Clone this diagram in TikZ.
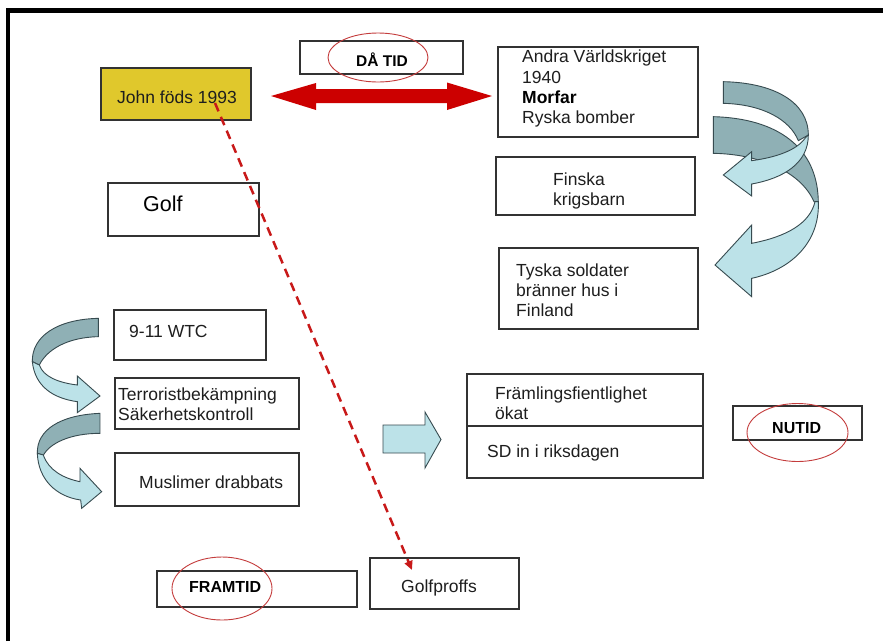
\documentclass[tikz,border=0pt]{standalone}
\usepackage{fontspec}
\setmainfont{Liberation Sans}
\usetikzlibrary{arrows.meta}
\definecolor{boxline}{RGB}{50,50,50}
\definecolor{txtcol}{RGB}{30,30,30}
\definecolor{goldfill}{RGB}{224,200,44}
\definecolor{darkteal}{RGB}{143,176,181}
\definecolor{lightteal}{RGB}{188,226,232}
\definecolor{tealline}{RGB}{55,75,80}
\definecolor{redarrow}{RGB}{204,0,0}
\definecolor{reddash}{RGB}{200,25,25}
\definecolor{ellred}{RGB}{196,60,60}
\begin{document}
\begin{tikzpicture}[x=1pt,y=-1pt,
  box/.style={draw=boxline, line width=1.2pt, rectangle, inner sep=0, outer sep=0},
  lbl/.style={anchor=base west, inner sep=0, text=txtcol, font=\fontsize{17.5}{20}\selectfont},
  bold/.style={anchor=base west, inner sep=0, text=black, font=\fontsize{16}{19}\selectfont\bfseries},
  ring/.style={draw=ellred, line width=0.9pt},
  darkband/.style={fill=darkteal, draw=tealline, line width=0.9pt},
  lightband/.style={fill=lightteal, draw=tealline, line width=0.9pt}
]
\useasboundingbox (0,0) rectangle (883,641);
\fill[white] (0,0) rectangle (883,641);
% frame
\draw[line width=4.3pt] (8,641) -- (8,10.5) -- (883,10.5);

% boxes
\node[box, fill=goldfill, minimum width=150, minimum height=52] (john) at (176,94) {};
\node[box, minimum width=163, minimum height=33] (datid) at (381.5,57.5) {};
\node[box, minimum width=200, minimum height=90] (andra) at (598,92) {};
\node[box, minimum width=199, minimum height=58] (finska) at (595.5,186) {};
\node[box, minimum width=199, minimum height=81] (tyska) at (598.5,288.5) {};
\node[box, minimum width=151, minimum height=53] (golf) at (183.5,209.5) {};
\node[box, minimum width=152, minimum height=50] (wtc) at (190,335) {};
\node[box, minimum width=184, minimum height=51] (terror) at (207,403.5) {};
\node[box, minimum width=184, minimum height=53] (muslim) at (207,479.5) {};
\node[box, minimum width=236, minimum height=104] (fram) at (585,426) {};
\draw[boxline, line width=1.6pt] (fram.west) -- (fram.east);
\node[box, minimum width=129, minimum height=34] (nutid) at (797.5,423) {};
\node[box, minimum width=200, minimum height=36] (framtid) at (257,589) {};
\node[box, minimum width=149, minimum height=51] (golfproffs) at (444.5,583.5) {};

% texts
\node[lbl] (tjohn) at (117,103) {John föds 1993};
\node[bold, font=\fontsize{15.5}{18}\selectfont\bfseries] (tdatid) at (356,66.5) {DÅ TID};
\node[lbl] (ta1) at (522,62.5) {Andra Världskriget};
\node[lbl] (ta2) at (522,83) {1940};
\node[lbl, font=\fontsize{17.5}{20}\selectfont\bfseries, text=black] (ta3) at (522,103) {Morfar};
\node[lbl] (ta4) at (522,123) {Ryska bomber};
\node[lbl] (tf1) at (553,185) {Finska};
\node[lbl] (tf2) at (553,205) {krigsbarn};
\node[lbl] (ty1) at (516,276.5) {Tyska soldater};
\node[lbl] (ty2) at (516,296.5) {bränner hus i};
\node[lbl] (ty3) at (516,316.5) {Finland};
\node[lbl, font=\fontsize{21.5}{24}\selectfont, text=black] (tgolf) at (143,211) {Golf};
\node[lbl] (twtc) at (129,337.5) {9-11 WTC};
\node[lbl] (tt1) at (118,400) {Terroristbekämpning};
\node[lbl] (tt2) at (118,420) {Säkerhetskontroll};
\node[lbl] (tmus) at (139,488.5) {Muslimer drabbats};
\node[lbl] (tfr1) at (495,399) {Främlingsfientlighet};
\node[lbl] (tfr2) at (495,419) {ökat};
\node[lbl] (tsd) at (487,457) {SD in i riksdagen};
\node[bold] (tnutid) at (772,433) {NUTID};
\node[bold] (tframtid) at (189,592.5) {FRAMTID};
\node[lbl] (tgp) at (401,592) {Golfproffs};

% red ellipses
\draw[ring] (378,57.5) ellipse [x radius=50, y radius=24.5];
\draw[ring] (797.5,432.5) ellipse [x radius=50.5, y radius=29];
\draw[ring] (222,588.5) ellipse [x radius=50, y radius=31.5];

% red double arrow
\fill[redarrow] (271,96) -- (316,83) -- (316,89) -- (447,89) -- (447,82.5) -- (492,96)
  -- (447,110) -- (447,103) -- (316,103) -- (316,110) -- cycle;

% dashed connector
\coordinate (ds) at (215,103);
\coordinate (de) at (412,570);
\draw[reddash, line width=2.5pt, dash pattern=on 9pt off 6pt, -{Triangle[length=9pt,width=8pt]}] (ds) -- (de);

% block arrow
\draw[lightband] (383,425) -- (425,425) -- (425,412) -- (441,439.5) -- (425,468) -- (425,453) -- (383,453) -- cycle;

% right curved arrows
\begin{scope}[shift={(690,70)}, scale=1/3]
  \draw[darkband] (70,140) .. controls (260,145) and (385,230) .. (385,400)
     -- (372,395) .. controls (330,300) and (200,252) .. (70,250) -- cycle;
  \draw[darkband] (100,35) .. controls (250,38) and (355,95) .. (355,195)
     -- (325,212) .. controls (300,150) and (220,103) .. (100,100) -- cycle;
  \draw[lightband] (355,195) .. controls (355,280) and (280,325) .. (185,342)
     -- (185,378) -- (100,315) -- (185,245) -- (185,272)
     .. controls (260,262) and (320,240) .. (345,205) -- cycle;
  \draw[lightband] (385,395) .. controls (390,520) and (300,600) .. (185,625)
     -- (185,680) -- (75,585) -- (185,465) -- (185,520)
     .. controls (290,500) and (360,460) .. (375,395) -- cycle;
\end{scope}

% left curved arrows
\begin{scope}[shift={(0,300)}, scale=1/3]
  \draw[darkband] (295,55) .. controls (170,58) and (95,110) .. (97,185)
     -- (118,195) .. controls (140,150) and (200,112) .. (295,110) -- cycle;
  \draw[lightband] (97,185) .. controls (105,260) and (160,295) .. (232,305)
     -- (232,338) -- (300,288) -- (232,228) -- (232,255)
     .. controls (175,248) and (130,230) .. (118,195) -- cycle;
  \draw[darkband] (300,340) .. controls (180,345) and (110,390) .. (112,460)
     -- (130,465) .. controls (150,430) and (210,400) .. (300,400) -- cycle;
  \draw[lightband] (112,460) .. controls (115,540) and (170,590) .. (242,600)
     -- (245,625) -- (305,575) -- (240,505) -- (240,545)
     .. controls (190,535) and (145,510) .. (130,465) -- cycle;
\end{scope}
\end{tikzpicture}
\end{document}
